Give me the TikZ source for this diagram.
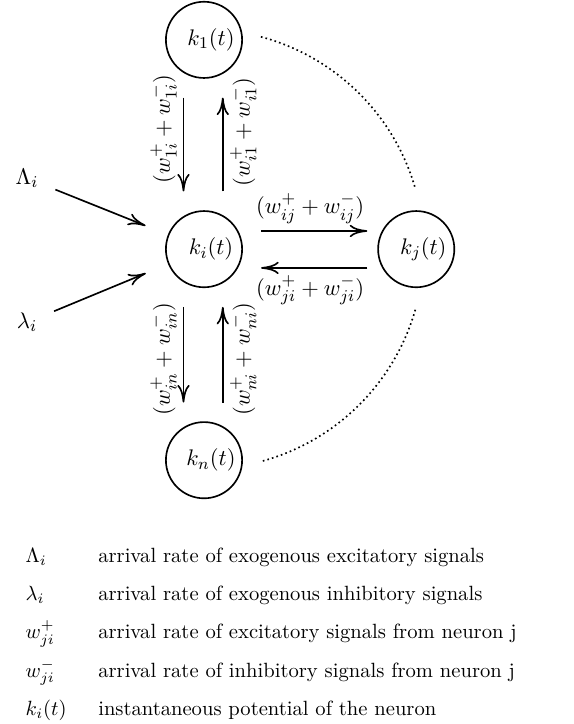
\documentclass[tikz,border=0pt]{standalone}
\usepackage{amsmath}
\usepackage{amssymb}
\usepackage{tikz}
\usetikzlibrary{arrows.meta,calc}

\begin{document}
\begin{tikzpicture}[>={To[length=3mm,width=2.1mm]},
  every node/.style={font=\fontsize{10.9}{13}\selectfont},
  neuron/.style={draw, thick, circle, minimum size=1.3cm, inner sep=0pt},
  flow/.style={->, thick}]
\useasboundingbox (-3.48,-8.10) rectangle (6.30,4.25);

% neurons
\node[neuron] (ki) at (0,0) {\hspace*{0.24cm}$k_i(t)$};
\node[neuron] (k1) at (0,3.57) {\hspace*{0.24cm}$k_1(t)$};
\node[neuron] (kn) at (0,-3.6) {\hspace*{0.24cm}$k_n(t)$};
\node[neuron] (kj) at (3.62,0) {\hspace*{0.24cm}$k_j(t)$};

% dotted arc through the other neurons
\draw[thick, dash pattern=on 0.8pt off 1.5pt] (75:3.75) arc (75:16:3.75);
\draw[thick, dash pattern=on 0.8pt off 1.5pt] (-16:3.75) arc (-16:-75:3.75);

% exogenous inputs
\node (Lam) at (-3.02,1.21) {$\Lambda_i$};
\node (lam) at (-3.02,-1.25) {$\lambda_i$};
\draw[flow, shorten <=0.18cm, shorten >=0.41cm] (Lam) -- (ki);
\draw[flow, shorten <=0.18cm, shorten >=0.41cm] (lam) -- (ki);

% k1 <-> ki
\draw[flow, shorten <=0.32cm, shorten >=0.32cm] ([xshift=-0.35cm]k1.south) -- ([xshift=-0.35cm]ki.north);
\draw[flow, shorten <=0.32cm, shorten >=0.32cm] ([xshift=0.32cm]ki.north) -- ([xshift=0.32cm]k1.south);
\node[rotate=90] (w1i) at (-0.69,2.05) {$(w^+_{1i}+w^-_{1i})$};
\node[rotate=90] (wi1) at (0.67,2.0) {$(w^+_{i1}+w^-_{i1})$};

% ki <-> kn
\draw[flow, shorten <=0.32cm, shorten >=0.32cm] ([xshift=-0.35cm]ki.south) -- ([xshift=-0.35cm]kn.north);
\draw[flow, shorten <=0.32cm, shorten >=0.32cm] ([xshift=0.32cm]kn.north) -- ([xshift=0.32cm]ki.south);
\node[rotate=90] (win) at (-0.69,-1.88) {$(w^+_{in}+w^-_{in})$};
\node[rotate=90] (wni) at (0.67,-1.88) {$(w^+_{ni}+w^-_{ni})$};

% ki <-> kj
\draw[flow, shorten <=0.31cm, shorten >=0.17cm] ([yshift=0.31cm]ki.east) -- ([yshift=0.31cm]kj.west)
  node[midway, above] (wij) {$(w^+_{ij}+w^-_{ij})$};
\draw[flow, shorten <=0.17cm, shorten >=0.31cm] ([yshift=-0.32cm]kj.west) -- ([yshift=-0.32cm]ki.east)
  node[midway, below] (wji) {$(w^+_{ji}+w^-_{ji})$};

% legend
\foreach \sym/\txt [count=\r] in {
  {$\Lambda_i$}/{arrival rate of exogenous excitatory signals},
  {$\lambda_i$}/{arrival rate of exogenous inhibitory signals},
  {$w^+_{ji}$}/{arrival rate of excitatory signals from neuron j},
  {$w^-_{ji}$}/{arrival rate of inhibitory signals from neuron j},
  {$k_i(t)$}/{instantaneous potential of the neuron}}
{
  \node[anchor=base west, inner sep=0pt, font=\normalsize] (sym\r) at (-3.05,{-5.34-0.653*(\r-1)}) {\sym};
  \node[anchor=base west, inner sep=0pt, font=\normalsize] (txt\r) at (-1.81,{-5.34-0.653*(\r-1)}) {\txt};
}
\end{tikzpicture}
\end{document}
